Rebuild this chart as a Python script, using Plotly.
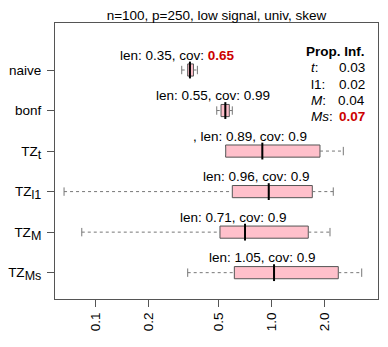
import numpy as np
import plotly.graph_objects as go

# data
sub = "<sub><span style='font-size:12.5px'>{}</span></sub>"
methods = ["naive", "bonf", "TZ" + sub.format("t"), "TZ" + sub.format("l1"),
           "TZ" + sub.format("M"), "TZ" + sub.format("Ms")]
lo = [0.309, 0.488, 0.548, 0.0665, 0.0838, 0.334]
q1 = [0.334, 0.516, 0.548, 0.598, 0.509, 0.614]
med = [0.344, 0.546, 0.885, 0.962, 0.706, 1.031]
q3 = [0.360, 0.575, 1.878, 1.699, 1.612, 2.385]
hi = [0.379, 0.598, 2.546, 2.234, 2.140, 3.238]
len_txt = ["len: 0.35", "len: 0.55", ", len: 0.89", "len: 0.96", "len: 0.71", "len: 1.05"]
cov_txt = ["0.65", "0.99", "0.9", "0.9", "0.9", "0.9"]
cov_bad = [True, False, False, False, False, False]

prop_names = ["<i>t</i>:", "l1:", "<i>M</i>:", "<i>Ms</i>:"]
prop_vals = ["0.03", "0.02", "0.04", "0.07"]
prop_bad = [False, False, False, True]

xticks = [0.1, 0.2, 0.5, 1.0, 2.0]
xtick_text = ["0.1", "0.2", "0.5", "1.0", "2.0"]

FONT = "Liberation Sans, Arial, sans-serif"
RED = "#CC0000"
GREY = "#555555"
pos = list(range(1, len(methods) + 1))

fig = go.Figure()

# dashed whiskers
wx, wy = [], []
for p, a, b, c, d in zip(pos, lo, q1, q3, hi):
    wx += [a, b, None, c, d, None]
    wy += [p, p, None, p, p, None]
fig.add_trace(go.Scatter(x=wx, y=wy, mode="lines",
                         line=dict(color="#777777", width=1, dash="3px,3px"),
                         hoverinfo="skip"))
# staples
fig.add_trace(go.Scatter(x=lo + hi, y=pos + pos, mode="markers",
                         marker=dict(symbol="line-ns", size=6,
                                     line=dict(color="#777777", width=1)),
                         hoverinfo="skip"))

for p, a, b, c in zip(pos, q1, med, q3):
    fig.add_trace(go.Box(y=[p], q1=[a], median=[b], q3=[c],
                         lowerfence=[a], upperfence=[c],
                         orientation="h", width=0.3, whiskerwidth=0,
                         fillcolor="#FFC0CB", line=dict(color=GREY, width=1),
                         hoverinfo="skip"))

# median lines
fig.add_trace(go.Scatter(x=med, y=pos, mode="markers",
                         marker=dict(symbol="line-ns", size=12,
                                     line=dict(color="black", width=2)),
                         hoverinfo="skip"))

for p, m, lt, ct, bad in zip(pos, med, len_txt, cov_txt, cov_bad):
    cv = f"<b><span style='color:{RED}'>{ct}</span></b>" if bad else ct
    fig.add_annotation(x=np.log10(m), y=p, xref="x", yref="y",
                       text=f"{lt}, cov: {cv}", showarrow=False,
                       xshift=-12, yshift=15, font=dict(size=13.5, color="black"))

# Prop. Inf. block
fig.add_annotation(x=0.965, y=0.932, xref="paper", yref="paper", xanchor="right",
                   text="<b>Prop. Inf.</b>", showarrow=False,
                   font=dict(size=13.5, color="black"))
ys = [0.872, 0.813, 0.754, 0.695]
for yy, nm, v, bad in zip(ys, prop_names, prop_vals, prop_bad):
    fig.add_annotation(x=0.787, y=yy, xref="paper", yref="paper", xanchor="left",
                       text=nm, showarrow=False, font=dict(size=13.5, color="black"))
    vt = f"<b><span style='color:{RED}'>{v}</span></b>" if bad else v
    fig.add_annotation(x=0.965, y=yy, xref="paper", yref="paper", xanchor="right",
                       text=vt, showarrow=False, font=dict(size=13.5, color="black"))

fig.update_layout(
    width=388, height=347,
    margin=dict(l=55, r=10, t=23, b=48, autoexpand=False),
    paper_bgcolor="white", plot_bgcolor="white",
    showlegend=False,
    font=dict(family=FONT, size=13.5, color="black"),
    title=dict(text="n=100, p=250, low signal, univ, skew", x=0.5, xref="paper",
               xanchor="center", y=1 - 15 / 347, yanchor="middle",
               font=dict(size=13.5, color="black")),
)
fig.update_xaxes(type="log", range=[-1.2285, 0.6026], tickvals=xticks,
                 ticktext=xtick_text, tickangle=-90, ticks="outside", ticklen=7,
                 tickcolor=GREY, showline=True, linecolor=GREY, mirror=True,
                 showgrid=False, zeroline=False, automargin=False,
                 tickfont=dict(size=13.5))
fig.update_yaxes(range=[6.65, -0.16], tickvals=pos, ticktext=methods,
                 ticks="outside", ticklen=7, tickcolor=GREY, showline=True,
                 linecolor=GREY, mirror=True, showgrid=False, zeroline=False,
                 automargin=False, tickfont=dict(size=13.5), ticklabelstandoff=3)

# the page body has a default margin; drop it so the figure fills the window
fig.write_html("out.html", config={"displayModeBar": False},
               post_script="document.body.style.margin='0';")
